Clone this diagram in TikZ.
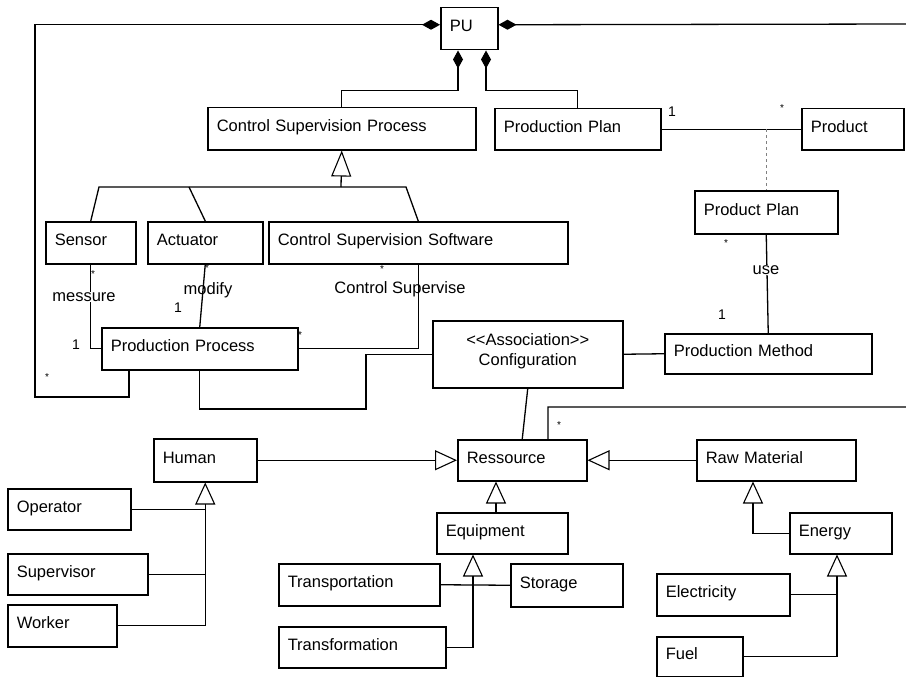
\documentclass[tikz,border=0pt]{standalone}
\usepackage{fontspec}
\setmainfont{Liberation Sans}
\usetikzlibrary{arrows.meta,calc}
\tikzset{
  umlbox/.style={draw=black,line width=1.5pt,fill=white,inner xsep=9pt,inner ysep=0pt,
    text height=12pt,text depth=6pt,font=\fontsize{16.5}{19}\selectfont},
  conn/.style={draw=black,line width=1.3pt},
  gen/.style={conn,-{Triangle[open,length=22pt,width=20pt,line width=1.1pt]}},
  comp/.style={conn,{Diamond[length=18pt,width=10pt]}-},
  lbl/.style={font=\fontsize{16.5}{19}\selectfont,inner sep=0.5pt},
  mult/.style={font=\fontsize{14}{14}\selectfont,inner sep=0pt},
  star/.style={font=\fontsize{10}{10}\selectfont,inner sep=0pt},
}
\newcommand\ubox[6]{%
  \pgfmathsetmacro\ubw{#4-#2}\pgfmathsetmacro\ubh{#5-#3}\pgfmathsetmacro\ubt{#4-#2-18}%
  \node[umlbox,anchor=north west,minimum width=\ubw pt,minimum height=\ubh pt,
        text width=\ubt pt,align=left] (#1) at (#2,#3) {#6};}
\begin{document}
\begin{tikzpicture}[x=1pt,y=-1pt]
\useasboundingbox (0,0) rectangle (906,677);
\fill[white] (0,0) rectangle (906,677);
% boxes
\ubox{PU}{440}{7}{497}{49}{PU}
\ubox{CSP}{207}{107}{475}{149}{Control Supervision Process}
\ubox{ProdPlan}{494}{108}{660}{149}{Production Plan}
\ubox{Product}{801}{108}{903}{149}{Product}
\ubox{Sensor}{45}{221}{135}{263}{Sensor}
\ubox{Actuator}{147}{221}{262}{263}{Actuator}
\ubox{CSS}{268}{221}{567}{263}{Control Supervision Software}
\ubox{ProductPlan}{694}{190}{837}{233}{Product Plan}
\ubox{PProcess}{101}{327}{297}{369}{Production Process}
\node[umlbox,anchor=north west,minimum width=190pt,minimum height=67pt,align=center,
      text height=26pt,text depth=4pt] (Config) at (432,320) {<{}<Association>{}>\\[1pt]Configuration};
\ubox{PMethod}{664}{333}{871}{373}{Production Method}
\ubox{Human}{153}{438}{256}{481}{Human}
\ubox{Ressource}{457}{439}{586}{480}{Ressource}
\ubox{RawMat}{696}{439}{855}{480}{Raw Material}
\ubox{Operator}{7}{488}{130}{529}{Operator}
\ubox{Supervisor}{7}{553}{147}{594}{Supervisor}
\ubox{Worker}{7}{604}{116}{646}{Worker}
\ubox{Equipment}{436}{512}{567}{553}{Equipment}
\ubox{Energy}{789}{512}{891}{553}{Energy}
\ubox{Transportation}{278}{563}{439}{605}{Transportation}
\ubox{Storage}{510}{563}{622}{606}{Storage}
\ubox{Electricity}{656}{573}{789}{615}{Electricity}
\ubox{Transformation}{278}{626}{445}{667}{Transformation}
\ubox{Fuel}{656}{636}{742}{676}{Fuel}
% compositions from PU
\coordinate (Lc) at (35,397);
\coordinate (Rc1) at (912,24);
\coordinate (Rc2) at (912,407);
\draw[comp] ([yshift=4pt]PU.west) -| (Lc) -| ([xshift=28pt]PProcess.south west);
\draw[comp] ([yshift=4pt]PU.east) -- (Rc1) -- (Rc2) -| ([xshift=91pt]Ressource.north west);
\draw[comp] ([xshift=18pt]PU.south west) -- ++(0,40) -| (CSP.north);
\draw[comp] ([xshift=46pt]PU.south west) -- ++(0,40) -| (ProdPlan.north);
% control supervision process generalization
\coordinate (gbar) at (341,187);
\coordinate (gL) at (99,187);
\coordinate (gA) at (189,187);
\coordinate (gR) at (406,187);
\draw[conn] (Sensor.north) -- (gL) -- (gR) -- (CSS.north);
\draw[conn] (gA) -- (Actuator.north);
\draw[conn,-{Triangle[open,length=26pt,width=20pt,line width=1.1pt]}] (gbar) -- (CSP.south);
% associations
\draw[conn] (Sensor.south) |- (PProcess.west);
\draw[conn] (Actuator.south) -- (PProcess.north);
\draw[conn] (CSS.south) |- (PProcess.east);
\coordinate (cf) at (366,409);
\draw[conn] (PProcess.south) |- (cf) |- (Config.west);
\draw[conn] (Config.east) -- (PMethod.west);
\draw[conn] (Config.south) -- (Ressource.north);
\draw[conn] (ProdPlan.east) -- (Product.west);
\coordinate (assoc) at (ProductPlan.north |- ProdPlan.east);
\draw[conn,dashed,gray,line width=1.1pt] (assoc) -- (ProductPlan.north);
\draw[conn] (ProductPlan.south) -- (PMethod.north);
% generalizations
\draw[gen] (Human.east) -- (Ressource.west);
\draw[gen] (RawMat.west) -- (Ressource.east);
\coordinate (eqtop) at ([xshift=60pt]Equipment.north west);
\draw[gen] (eqtop) -- (eqtop |- Ressource.south);
\draw[gen] (Worker.east) -| (Human.south);
\draw[conn] (Operator.east) -- (Operator.east -| Human.south);
\draw[conn] (Supervisor.east) -- (Supervisor.east -| Human.south);
\coordinate (eqbot) at ([xshift=37pt]Equipment.south west);
\draw[gen] (Transformation.east) -| (eqbot);
\draw[conn] (Transportation.east) -- (Storage.west);
\coordinate (rmb) at ([xshift=57pt]RawMat.south west);
\draw[gen] (Energy.west) -| (rmb);
\coordinate (enb) at ([xshift=48pt]Energy.south west);
\draw[gen] (Fuel.east) -| (enb);
\draw[conn] (Electricity.east) -- (Electricity.east -| enb);
% labels
\node[star] (s1) at (47,377) {*};
\node[star] (s2) at (559,425) {*};
\node[star] (s3) at (93,274) {*};
\node[lbl,fill=white] (lmes) at (84,297) {messure};
\node[mult] (m1) at (76,345) {1};
\node[star] (s4) at (207,268) {*};
\node[lbl] (lmod) at (208,290) {modify};
\node[mult] (m2) at (178,308) {1};
\node[star] (s5) at (382,269) {*};
\node[star] (s6) at (300,335) {*};
\node[lbl] (lcs) at (400,289) {Control Supervise};
\node[mult] (m3) at (672,112) {1};
\node[star] (s7) at (782,108) {*};
\node[lbl,fill=white] (luse) at (766,270) {use};
\node[star] (s8) at (726,243) {*};
\node[mult] (m4) at (722,315) {1};
\end{tikzpicture}
\end{document}
